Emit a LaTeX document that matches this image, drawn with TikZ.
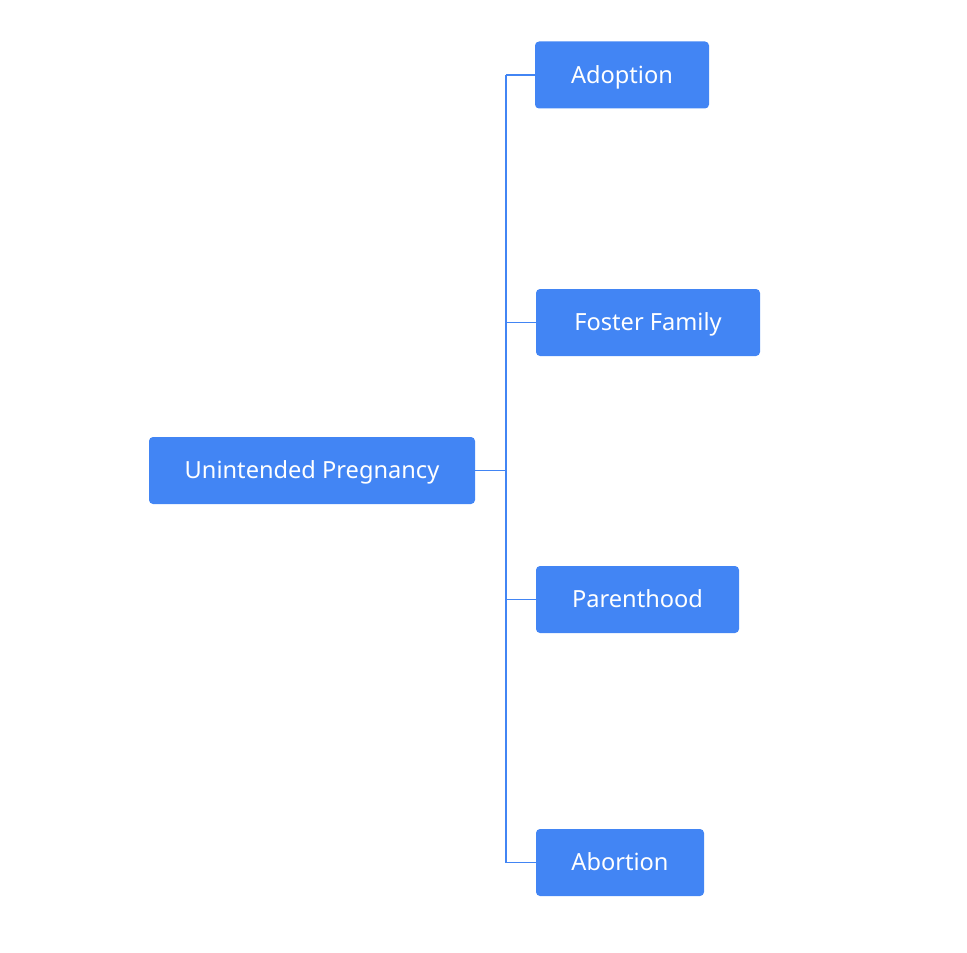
\documentclass[tikz,border=0pt]{standalone}
\usepackage{fontspec}
\setmainfont{Noto Sans}
\definecolor{boxblue}{HTML}{4285F4}
\tikzset{
  choice/.style={fill=boxblue, rounded corners=2pt, text=white, minimum height=33.5pt,
    inner sep=0pt, text height=8.4pt, text depth=0pt, font=\fontsize{11.8}{14}\selectfont},
  branch/.style={draw=boxblue, line width=0.75pt}
}
\begin{document}
\begin{tikzpicture}[x=0.5pt,y=-0.5pt]
	\useasboundingbox (0,0) rectangle (967,952);
	\node[choice, minimum width=163pt] (root) at (312,470.5) {Unintended Pregnancy};
	\node[choice, minimum width=87pt] (adoption) at (622,75) {Adoption};
	\node[choice, minimum width=112pt] (foster) at (648,322.5) {Foster Family};
	\node[choice, minimum width=101.5pt] (parent) at (637.5,599.5) {Parenthood};
	\node[choice, minimum width=84pt] (abortion) at (620,862.5) {Abortion};
	\coordinate (spine) at (506,470.5);
	\draw[branch] (root.east) -- (spine);
	\draw[branch] (spine |- adoption.west) -- (spine |- abortion.west);
	\foreach \c in {adoption,foster,parent,abortion}
		\draw[branch] (spine |- \c.west) -- (\c.west);
\end{tikzpicture}
\end{document}
